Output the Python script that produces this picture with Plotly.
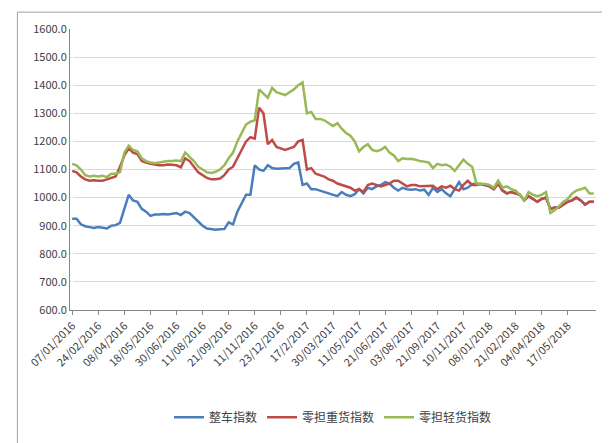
import plotly.graph_objects as go

tick_labels = ['07/01/2016', '24/02/2016', '08/04/2016', '18/05/2016', '30/06/2016',
               '11/08/2016', '21/09/2016', '11/11/2016', '23/12/2016', '17/2/2017',
               '30/03/2017', '11/05/2017', '21/06/2017', '03/08/2017', '21/09/2017',
               '10/11/2017', '08/01/2018', '21/02/2018', '04/04/2018', '17/05/2018']

zhengche = [925, 925, 905, 898, 895, 892, 895, 892, 890, 900, 902, 910, 960, 1010, 990,
            985, 960, 950, 935, 940, 940, 942, 940, 943, 945, 938, 950, 945, 930, 915,
            900, 890, 888, 886, 887, 888, 912, 905, 950, 980, 1010, 1010, 1115, 1100, 1095,
            1115, 1105, 1103, 1103, 1104, 1105, 1120, 1125, 1045, 1050, 1030, 1030, 1025, 1020, 1015,
            1010, 1005, 1020, 1010, 1005, 1012, 1030, 1015, 1035, 1030, 1040, 1045, 1055, 1050, 1035,
            1025, 1035, 1030, 1028, 1030, 1025, 1028, 1010, 1035, 1020, 1030, 1015, 1005, 1030, 1055,
            1030, 1035, 1048, 1050, 1048, 1045, 1040, 1030, 1050, 1025, 1015, 1020, 1015, 1010, 990,
            1005, 995, 985, 995, 1000, 960, 965, 965, 975, 985, 990, 1000, 990, 975, 985, 985]

lingdan_zhong = [1095, 1090, 1075, 1065, 1060, 1062, 1060, 1060, 1065, 1070, 1075, 1110, 1150, 1175, 1160,
                 1155, 1130, 1125, 1120, 1118, 1115, 1115, 1118, 1117, 1115, 1108, 1140, 1130, 1110, 1090,
                 1080, 1070, 1065, 1065, 1068, 1080, 1100, 1110, 1140, 1170, 1200, 1215, 1210, 1320, 1300,
                 1190, 1205, 1180, 1175, 1170, 1175, 1180, 1200, 1205, 1100, 1105, 1085, 1080, 1075, 1065,
                 1060, 1050, 1045, 1040, 1035, 1025, 1030, 1020, 1045, 1050, 1045, 1040, 1045, 1050, 1060,
                 1060, 1050, 1040, 1045, 1045, 1040, 1040, 1040, 1042, 1030, 1040, 1035, 1042, 1030, 1025,
                 1045, 1060, 1045, 1045, 1048, 1045, 1040, 1030, 1050, 1025, 1015, 1020, 1015, 1010, 990,
                 1005, 995, 985, 995, 1000, 960, 965, 965, 975, 985, 990, 1000, 990, 975, 985, 985]

lingdan_qing = [1120, 1115, 1100, 1080, 1075, 1078, 1075, 1078, 1073, 1085, 1085, 1090, 1160, 1185, 1170,
                1165, 1140, 1130, 1125, 1122, 1125, 1128, 1130, 1130, 1132, 1130, 1160, 1145, 1130, 1110,
                1100, 1090, 1088, 1092, 1100, 1115, 1140, 1160, 1200, 1230, 1260, 1270, 1275, 1385, 1370,
                1355, 1390, 1375, 1370, 1365, 1375, 1385, 1400, 1410, 1300, 1305, 1280, 1280, 1275, 1265,
                1255, 1265, 1245, 1230, 1220, 1200, 1165, 1180, 1190, 1170, 1165, 1170, 1180, 1160, 1150,
                1130, 1140, 1137, 1138, 1135, 1130, 1128, 1125, 1105, 1120, 1115, 1118, 1110, 1095, 1115,
                1135, 1120, 1110, 1050, 1050, 1048, 1045, 1035, 1060, 1035, 1040, 1030, 1025, 1010, 990,
                1020, 1010, 1005, 1010, 1020, 945, 955, 970, 985, 995, 1015, 1025, 1030, 1035, 1015, 1015]

series = [('整车指数', zhengche, '#4a7ebb'),
          ('零担重货指数', lingdan_zhong, '#be4b48'),
          ('零担轻货指数', lingdan_qing, '#98b954')]

fig = go.Figure()
for name, vals, col in series:
    fig.add_trace(go.Scatter(x=list(range(len(vals))), y=vals, name=name, mode='lines',
                             line=dict(color=col, width=2.5)))

fig.update_layout(
    width=610, height=443, plot_bgcolor='white', paper_bgcolor='white',
    margin=dict(l=62, r=22, t=14, b=141),
    font=dict(family='Noto Sans CJK SC, Liberation Sans', size=11, color='#404040'),
    legend=dict(orientation='h', x=0.5, xanchor='center', y=-0.33, yanchor='top',
                font=dict(size=12)),
    xaxis=dict(tickvals=list(range(0, 120, 6)), ticktext=tick_labels, tickangle=-45,
               range=[-0.5, len(zhengche) - 0.5], showgrid=False, showline=True,
               linecolor='#868686', ticks='outside', ticklen=4, tickcolor='#868686'),
    yaxis=dict(range=[600, 1600], dtick=100, tickformat='.1f', gridcolor='#d9d9d9',
               showline=True, linecolor='#868686', zeroline=False),
    shapes=[dict(type='rect', xref='paper', yref='paper', x0=-0.1, x1=1.03, y0=-0.5, y1=1.06,
                 line=dict(color='#a0a0a0', width=1))],
)
fig.write_html('out.html')
